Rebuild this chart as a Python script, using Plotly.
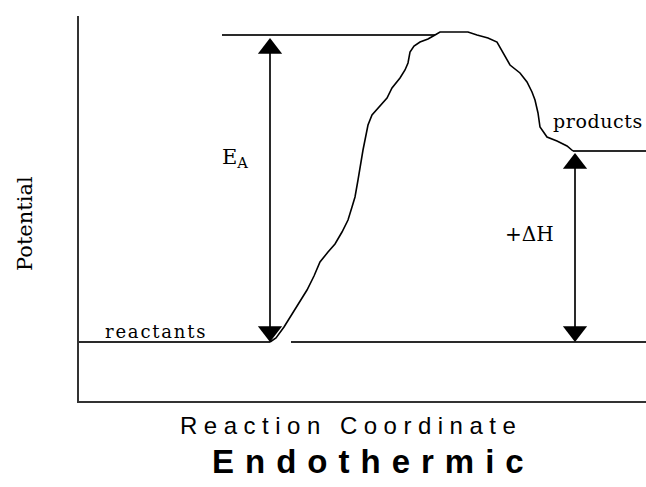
import plotly.graph_objects as go

# ---- values (chart units: origin at the axes corner) ----
curve_x = [191, 197, 205, 213, 221, 228, 235, 241, 249, 256, 263, 269, 273, 276, 279, 281,
           284, 286, 289, 293, 299, 308, 313, 321, 326, 329, 331, 335, 341, 349, 356, 361,
           376, 389, 398, 409, 418, 424, 431, 441, 448, 453, 456, 459, 461, 468, 478, 488, 494]
curve_y = [59, 63, 74, 87, 99, 111, 125, 139, 149, 157, 169, 181, 194, 204, 221, 234,
           251, 261, 276, 286, 293, 303, 313, 323, 331, 338, 349, 355, 359, 362, 366, 369,
           369, 369, 366, 363, 359, 349, 336, 328, 319, 309, 301, 288, 274, 264, 260, 255, 250]

reactant_level = 59
product_level = 250
activation_level = 366

reactants_x = [0, 191]
baseline_x = [212, 567]
activation_x = [143, 356]
products_x = [494, 567]

ea_x = 191
ea_span = [59, 363]
dh_x = 496
dh_span = [59, 248]

x_range = [0, 567]
y_range = [0, 385]

LINE = "#2a2a2a"
HEAD = 21  # triangle marker size (px); 1 chart unit == 1 px
r = HEAD / 2

fig = go.Figure()

def hline(xs, y):
    fig.add_trace(go.Scatter(x=xs, y=[y, y], mode="lines",
                             line=dict(color=LINE, width=2), hoverinfo="skip"))

hline(reactants_x, reactant_level)
hline(baseline_x, reactant_level)
hline(activation_x, activation_level)
hline(products_x, product_level)

fig.add_trace(go.Scatter(x=curve_x, y=curve_y, mode="lines",
                         line=dict(color="black", width=1.6), hoverinfo="skip"))

def double_arrow(x, span):
    lo, hi = span
    fig.add_trace(go.Scatter(x=[x, x], y=[lo + r, hi - r], mode="lines",
                             line=dict(color=LINE, width=2), hoverinfo="skip"))
    fig.add_trace(go.Scatter(x=[x, x], y=[hi - r, lo + r], mode="markers",
                             marker=dict(symbol=["triangle-up", "triangle-down"],
                                         size=HEAD, color="black",
                                         line=dict(width=0)),
                             hoverinfo="skip"))

double_arrow(ea_x, ea_span)
double_arrow(dh_x, dh_span)

serif = "DejaVu Serif"
sans = "Liberation Sans"

annotations = [
    dict(text="Potential", xref="paper", x=0, xshift=-54, yref="y", y=177, textangle=-90,
         xanchor="center", yanchor="middle",
         font=dict(family=serif, size=21, color="black")),
    dict(text='<span style="letter-spacing:1.8px">reactants</span>', xref="x", yref="y",
         x=24, y=70, xanchor="left", yanchor="middle",
         font=dict(family=serif, size=18, color="black")),
    dict(text='<span style="letter-spacing:0.6px">products</span>', xref="x", yref="y",
         x=472, y=280, xanchor="left", yanchor="middle",
         font=dict(family=serif, size=19, color="black")),
    dict(text="E<sub>A</sub>", xref="x", yref="y", x=141, y=243, xanchor="left",
         yanchor="middle", font=dict(family=serif, size=21, color="black")),
    dict(text="+ΔH", xref="x", yref="y", x=424, y=167, xanchor="left", yanchor="middle",
         font=dict(family=serif, size=20, color="black")),
    dict(text='<span style="letter-spacing:6.5px">Reaction Coordinate</span>',
         xref="x", x=272, yref="paper", y=0, yshift=-24, xanchor="center", yanchor="middle",
         font=dict(family=sans, size=24, color="black")),
    dict(text='<span style="letter-spacing:11px"><b>Endothermic</b></span>',
         xref="x", x=294, yref="paper", y=0, yshift=-60, xanchor="center", yanchor="middle",
         font=dict(family=sans, size=33, color="black")),
]
for a in annotations:
    a.update(showarrow=False)

fig.update_layout(
    width=646, height=487,
    margin=dict(l=79, r=0, t=16, b=86),
    paper_bgcolor="white", plot_bgcolor="white",
    showlegend=False,
    annotations=annotations,
    xaxis=dict(range=x_range, showline=True, linecolor="#333", linewidth=2,
               showgrid=False, zeroline=False, showticklabels=False, ticks=""),
    yaxis=dict(range=y_range, showline=True, linecolor="#333", linewidth=2,
               showgrid=False, zeroline=False, showticklabels=False, ticks=""),
)

fig.write_html("out.html", config={"displayModeBar": False},
               post_script="document.body.style.margin='0';document.body.style.overflow='hidden';")
